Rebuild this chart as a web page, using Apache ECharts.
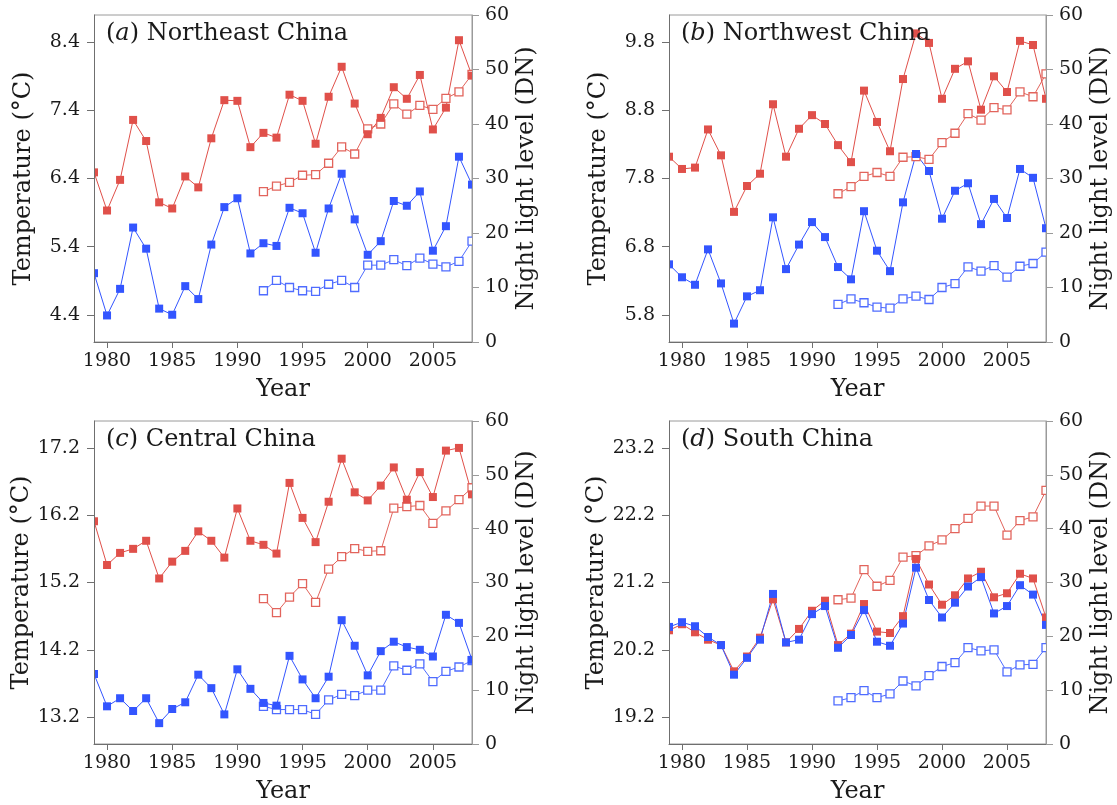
<!DOCTYPE html>
<html>
<head>
<meta charset="utf-8">
<script src="https://cdn.jsdelivr.net/npm/echarts@6/dist/echarts.min.js"></script>
<style>
  html, body { margin: 0; padding: 0; background: #fff; }
  #chart { width: 1117px; height: 805px; }
</style>
</head>
<body>
<div id="chart"></div>
<script>
// Years of the temperature records and of the night-light records
const years = [1979, 1980, 1981, 1982, 1983, 1984, 1985, 1986, 1987, 1988,
               1989, 1990, 1991, 1992, 1993, 1994, 1995, 1996, 1997, 1998,
               1999, 2000, 2001, 2002, 2003, 2004, 2005, 2006, 2007, 2008];
const lightYears = [1992, 1993, 1994, 1995, 1996, 1997, 1998, 1999, 2000,
                    2001, 2002, 2003, 2004, 2005, 2006, 2007, 2008];
const yearTicks = [1980, 1985, 1990, 1995, 2000, 2005];

// Temperature tick labels of each region
const neTicks = [4.4, 5.4, 6.4, 7.4, 8.4];
const nwTicks = [5.8, 6.8, 7.8, 8.8, 9.8];
const ccTicks = [13.2, 14.2, 15.2, 16.2, 17.2];
const scTicks = [19.2, 20.2, 21.2, 22.2, 23.2];

// (a) Northeast China
const neTempRed  = [6.49, 5.93, 6.38, 7.26, 6.95, 6.05, 5.96, 6.43, 6.27, 6.99,
                    7.55, 7.54, 6.86, 7.07, 7.00, 7.63, 7.54, 6.91, 7.60, 8.04,
                    7.50, 7.05, 7.29, 7.74, 7.57, 7.92, 7.12, 7.44, 8.43, 7.91];
const neTempBlue = [5.01, 4.39, 4.78, 5.68, 5.37, 4.49, 4.40, 4.82, 4.63, 5.43,
                    5.98, 6.11, 5.30, 5.45, 5.41, 5.97, 5.89, 5.31, 5.96, 6.47,
                    5.80, 5.28, 5.48, 6.07, 6.00, 6.21, 5.34, 5.70, 6.72, 6.31];
const neLightRed  = [27.6, 28.6, 29.3, 30.6, 30.7, 32.8, 35.8, 34.5, 39.1, 40.0,
                     43.7, 41.8, 43.4, 42.7, 44.7, 45.9, 49.1];
const neLightBlue = [9.4, 11.3, 10.0, 9.4, 9.3, 10.6, 11.3, 10.0, 14.1, 14.1,
                     15.1, 14.0, 15.4, 14.3, 13.8, 14.8, 18.5];

// (b) Northwest China
const nwTempRed  = [8.12, 7.94, 7.96, 8.52, 8.14, 7.31, 7.69, 7.87, 8.89, 8.12,
                    8.53, 8.73, 8.60, 8.29, 8.04, 9.09, 8.63, 8.20, 9.26, 9.93,
                    9.79, 8.97, 9.41, 9.52, 8.81, 9.30, 9.07, 9.82, 9.76, 8.97];
const nwTempBlue = [6.54, 6.35, 6.24, 6.76, 6.26, 5.67, 6.07, 6.16, 7.23, 6.47,
                    6.83, 7.16, 6.94, 6.50, 6.32, 7.32, 6.74, 6.44, 7.45, 8.16,
                    7.91, 7.21, 7.62, 7.73, 7.13, 7.50, 7.22, 7.94, 7.81, 7.07];
const nwLightRed  = [27.2, 28.5, 30.4, 31.1, 30.4, 33.9, 34.0, 33.5, 36.6, 38.3,
                     41.9, 40.7, 43.0, 42.6, 45.9, 45.0, 49.2];
const nwLightBlue = [6.9, 7.9, 7.2, 6.4, 6.2, 7.9, 8.4, 7.8, 10.0, 10.7,
                     13.8, 13.0, 14.0, 11.9, 13.9, 14.4, 16.5];

// (c) Central China
const ccTempRed  = [16.11, 15.46, 15.64, 15.70, 15.82, 15.26, 15.51, 15.67, 15.96, 15.82,
                    15.57, 16.30, 15.82, 15.76, 15.63, 16.68, 16.16, 15.80, 16.40, 17.04,
                    16.54, 16.42, 16.64, 16.91, 16.43, 16.84, 16.47, 17.16, 17.20, 16.51];
const ccTempBlue = [13.84, 13.36, 13.48, 13.29, 13.48, 13.11, 13.32, 13.42, 13.83, 13.63,
                    13.24, 13.91, 13.62, 13.41, 13.37, 14.11, 13.76, 13.48, 13.80, 14.64,
                    14.26, 13.82, 14.18, 14.32, 14.24, 14.20, 14.10, 14.72, 14.60, 14.05];
const ccLightRed  = [27.0, 24.4, 27.3, 29.8, 26.3, 32.5, 34.8, 36.3, 35.8, 35.9,
                     43.8, 44.1, 44.3, 41.0, 43.3, 45.4, 47.6];
const ccLightBlue = [7.0, 6.4, 6.4, 6.4, 5.5, 8.2, 9.2, 9.0, 10.0, 10.0,
                     14.5, 13.7, 14.9, 11.6, 13.5, 14.3, 15.5];

// (d) South China
const scTempRed  = [20.49, 20.58, 20.46, 20.35, 20.27, 19.88, 20.10, 20.38, 20.95, 20.31,
                    20.51, 20.78, 20.93, 20.27, 20.44, 20.88, 20.47, 20.45, 20.70, 21.55,
                    21.17, 20.87, 21.01, 21.26, 21.36, 20.98, 21.04, 21.33, 21.26, 20.68];
const scTempBlue = [20.54, 20.61, 20.55, 20.39, 20.27, 19.83, 20.08, 20.35, 21.03, 20.31,
                    20.35, 20.73, 20.85, 20.23, 20.42, 20.79, 20.32, 20.26, 20.59, 21.42,
                    20.94, 20.68, 20.90, 21.14, 21.28, 20.74, 20.85, 21.16, 21.02, 20.57];
const scLightRed  = [26.8, 27.1, 32.4, 29.3, 30.4, 34.7, 35.0, 36.8, 37.9, 40.0,
                     41.9, 44.2, 44.2, 38.8, 41.5, 42.2, 47.1];
const scLightBlue = [8.0, 8.6, 9.9, 8.6, 9.3, 11.7, 10.8, 12.7, 14.4, 15.1,
                     17.9, 17.3, 17.5, 13.4, 14.7, 14.8, 17.9];

const panels = [
  { letter: 'a', region: 'Northeast China', ticks: neTicks, tRed: neTempRed, tBlue: neTempBlue, lRed: neLightRed, lBlue: neLightBlue },
  { letter: 'b', region: 'Northwest China', ticks: nwTicks, tRed: nwTempRed, tBlue: nwTempBlue, lRed: nwLightRed, lBlue: nwLightBlue },
  { letter: 'c', region: 'Central China',   ticks: ccTicks, tRed: ccTempRed, tBlue: ccTempBlue, lRed: ccLightRed, lBlue: ccLightBlue },
  { letter: 'd', region: 'South China',     ticks: scTicks, tRed: scTempRed, tBlue: scTempBlue, lRed: scLightRed, lBlue: scLightBlue }
];

// Plot boxes of the 2x2 layout
const boxes = [
  { left: 94,  top: 15,  width: 378, height: 327 },
  { left: 669, top: 15,  width: 377, height: 327 },
  { left: 94,  top: 421, width: 378, height: 326 },
  { left: 669, top: 421, width: 377, height: 326 }
];

const FONT = 'DejaVu Serif';
const INK = '#1a1a1a';
const RED = '#e0504a';
const RED_OPEN = '#e2645c';
const BLUE = '#3355ff';
const BLUE_OPEN = '#4f6cff';
const AXIS = '#6f6f6f';
const AXIS_LIGHT = '#9a9a9a';

const pairs = (xs, vs) => xs.map((x, i) => [x, vs[i]]);

const grid = [], xAxis = [], yAxis = [], series = [], title = [], graphic = [];

panels.forEach((p, i) => {
  const b = boxes[i];
  const tickStep = p.ticks[1] - p.ticks[0];
  grid.push({ left: b.left, top: b.top, width: b.width, height: b.height,
              show: true, borderColor: AXIS_LIGHT, borderWidth: 1 });

  // white strips just outside the left and right frame, so edge markers look cut by the frame
  graphic.push({ type: 'rect', z: 3, silent: true,
                 shape: { x: b.left - 6, y: b.top, width: 6, height: b.height },
                 style: { fill: '#ffffff' } });
  graphic.push({ type: 'rect', z: 3, silent: true,
                 shape: { x: b.left + b.width, y: b.top, width: 6, height: b.height },
                 style: { fill: '#ffffff' } });

  title.push({
    left: b.left + 12, top: b.top + 6, padding: 0,
    text: '{p|(}{i|' + p.letter + '}{p|) ' + p.region + '}',
    textStyle: { fontWeight: 'normal', rich: {
      p: { fontFamily: FONT, fontSize: 24, fontWeight: 'normal', color: INK, lineHeight: 26 },
      i: { fontFamily: FONT, fontSize: 24, fontWeight: 'normal', fontStyle: 'italic', color: INK, lineHeight: 26 }
    } }
  });

  xAxis.push({
    gridIndex: i, type: 'value', min: years[0], max: years[years.length - 1], z: 4,
    axisLine: { show: true, lineStyle: { color: AXIS } },
    axisTick: { show: true, length: 6, customValues: yearTicks, lineStyle: { color: AXIS } },
    axisLabel: { customValues: yearTicks, formatter: v => String(v),
                 fontFamily: FONT, fontSize: 19, color: INK, margin: 10 },
    splitLine: { show: false },
    name: 'Year', nameLocation: 'middle', nameGap: 36,
    nameTextStyle: { fontFamily: FONT, fontSize: 24, color: INK }
  });

  yAxis.push({
    gridIndex: i, type: 'value', position: 'left', z: 4,
    min: +(p.ticks[0] - 0.4 * tickStep).toFixed(2),
    max: +(p.ticks[p.ticks.length - 1] + 0.4 * tickStep).toFixed(2),
    axisLine: { show: true, lineStyle: { color: AXIS } },
    axisTick: { show: true, length: 7, customValues: p.ticks, lineStyle: { color: AXIS } },
    axisLabel: { customValues: p.ticks, formatter: v => v.toFixed(1),
                 fontFamily: FONT, fontSize: 19, color: INK, margin: 14 },
    splitLine: { show: false },
    name: 'Temperature (°C)', nameLocation: 'middle', nameGap: 58, nameRotate: 90,
    nameTextStyle: { fontFamily: FONT, fontSize: 24, color: INK }
  });

  yAxis.push({
    gridIndex: i, type: 'value', position: 'right', min: 0, max: 60, interval: 10, z: 4,
    axisLine: { show: true, lineStyle: { color: AXIS_LIGHT } },
    axisTick: { show: true, length: 7, lineStyle: { color: AXIS_LIGHT } },
    axisLabel: { fontFamily: FONT, fontSize: 19, color: INK, margin: 13 },
    splitLine: { show: false },
    name: 'Night light level (DN)', nameLocation: 'middle', nameGap: 43, nameRotate: 90,
    nameTextStyle: { fontFamily: FONT, fontSize: 24, color: INK }
  });

  const common = { type: 'line', xAxisIndex: i, symbol: 'rect', symbolSize: 8,
                   animation: false, silent: true, z: 2 };
  series.push(Object.assign({}, common, {
    yAxisIndex: 2 * i + 1, data: pairs(lightYears, p.lRed),
    lineStyle: { color: RED_OPEN, width: 1 },
    itemStyle: { color: '#ffffff', borderColor: RED_OPEN, borderWidth: 1.3 }
  }));
  series.push(Object.assign({}, common, {
    yAxisIndex: 2 * i + 1, data: pairs(lightYears, p.lBlue),
    lineStyle: { color: BLUE_OPEN, width: 1 },
    itemStyle: { color: '#ffffff', borderColor: BLUE_OPEN, borderWidth: 1.3 }
  }));
  series.push(Object.assign({}, common, {
    yAxisIndex: 2 * i, data: pairs(years, p.tRed),
    lineStyle: { color: RED, width: 1 },
    itemStyle: { color: RED }
  }));
  series.push(Object.assign({}, common, {
    yAxisIndex: 2 * i, data: pairs(years, p.tBlue),
    lineStyle: { color: BLUE, width: 1 },
    itemStyle: { color: BLUE }
  }));
});

const chart = echarts.init(document.getElementById('chart'), null, { renderer: 'canvas' });
chart.setOption({ backgroundColor: '#ffffff', animation: false, title, grid, xAxis, yAxis, series, graphic });
</script>
</body>
</html>
